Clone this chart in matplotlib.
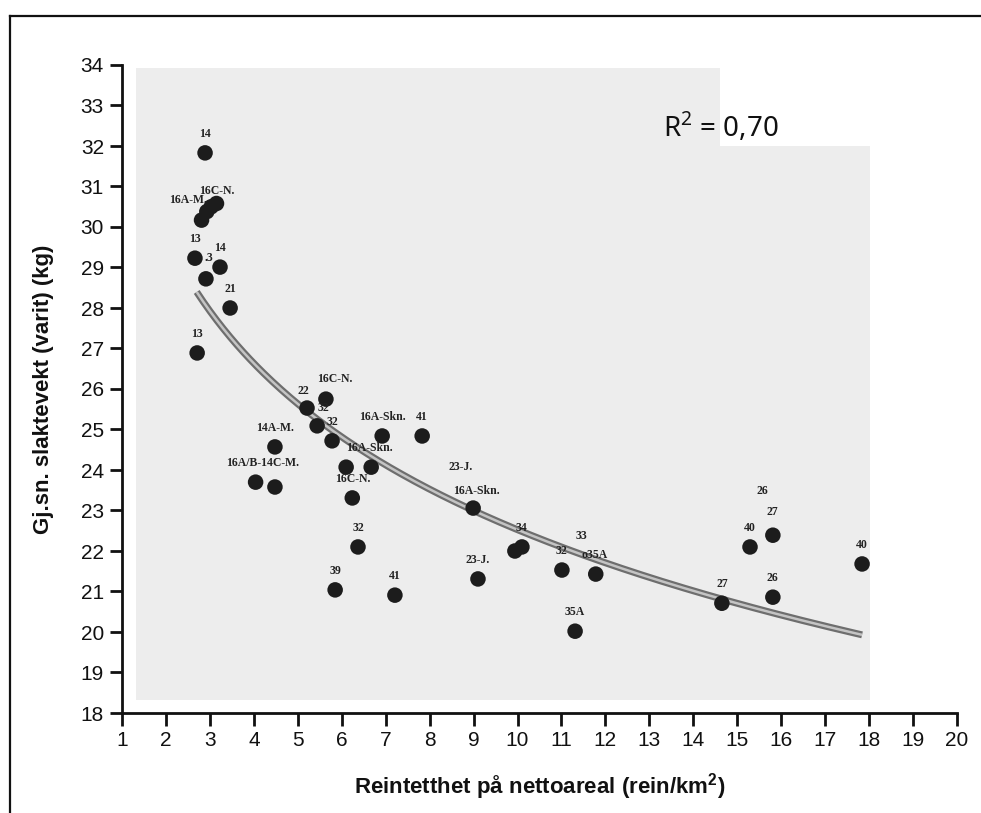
import matplotlib
matplotlib.use("Agg")
import matplotlib.pyplot as plt
import numpy as np
from matplotlib.patches import Rectangle
from matplotlib.lines import Line2D

# ---------------- data ----------------
density = [2.89, 2.81, 2.93, 3.03, 3.15, 2.66, 2.91, 3.23, 3.46, 2.71,
           5.21, 5.64, 5.44, 5.78, 4.48, 6.92, 7.83, 6.10, 6.67, 6.24,
           4.04, 4.48, 6.37, 5.85, 7.21, 8.99, 9.94, 10.10, 9.10, 11.01,
           11.78, 11.31, 14.65, 15.29, 15.81, 15.81, 17.84]
weight = [31.83, 30.17, 30.38, 30.50, 30.58, 29.23, 28.72, 29.01, 28.00, 26.89,
          25.53, 25.75, 25.09, 24.72, 24.57, 24.84, 24.84, 24.07, 24.07, 23.31,
          23.70, 23.58, 22.10, 21.04, 20.91, 23.06, 22.00, 22.10, 21.31, 21.53,
          21.43, 20.02, 20.71, 22.10, 22.39, 20.86, 21.68]
point_labels = ["14", "16A-M.", "", "16C-N.", "", "13", ".3", "14", "21", "13",
                "22", "16C-N.", "32", "32", "14A-M.", "16A-Skn.", "41", "", "16A-Skn.", "16C-N.",
                "16A/B-14C-M.", "", "32", "39", "41", "16A-Skn.", "", "34", "23-J.", "32",
                "o35A", "35A", "27", "40", "27", "26", "40"]
extra_labels = [(25, "23-J."), (30, "33"), (34, "26")]

x_ticks = list(range(1, 21))
y_ticks = list(range(18, 35))
r2_text = "R$^{2}$ = 0,70"
xlabel = r"Reintetthet på nettoareal (rein/km$^{\mathbf{2}}$)"
ylabel = "Gj.sn. slaktevekt (varit) (kg)"
# logarithmic trend line as printed: y = a + b*ln(x)
trend_a = 32.85
trend_b = -4.484
trend_range = (2.7, 17.84)

# ---------------- label offsets (pixels) ----------------
default_off = (0, 19)
label_offsets = {1: (-14, 20), 3: (6, 16), 6: (3, 21), 10: (-4, 17), 11: (9, 20),
                 12: (6, 18), 18: (-2, 19), 20: (7, 19), 25: (3, 17), 30: (-1, 19),
                 34: (-1, 23)}
extra_offsets = [(-13, 41), (-14, 38), (-10, 44)]

# ---------------- style ----------------
plt.rcParams['mathtext.fontset'] = 'custom'
plt.rcParams['mathtext.rm'] = 'Noto Sans'
plt.rcParams['mathtext.bf'] = 'Liberation Sans:bold'
TICK_FONT = ['Liberation Sans', 'DejaVu Sans']

fig = plt.figure(figsize=(9.81, 8.13), dpi=100)
W, H = 981, 813

def fx(px):
    return px / W

def fy(py):
    return 1 - py / H

# textured plot background (behind the axes)
fig.patches.append(Rectangle((fx(136), fy(700)), fx(870) - fx(136), fy(68) - fy(700),
                             transform=fig.transFigure, facecolor='#ededed',
                             edgecolor='none', zorder=-10))
fig.patches.append(Rectangle((fx(720), fy(146)), fx(875) - fx(720), fy(66) - fy(146),
                             transform=fig.transFigure, facecolor='white',
                             edgecolor='none', zorder=-9))
# frame
fig.lines.append(Line2D([fx(10), 1.0], [fy(16), fy(16)], transform=fig.transFigure,
                        color='#111111', lw=1.6, zorder=-5))
fig.lines.append(Line2D([fx(10), fx(10)], [fy(16), 0.0], transform=fig.transFigure,
                        color='#111111', lw=1.6, zorder=-5))

ax = fig.add_axes([fx(122), fy(713), fx(957) - fx(122), fy(65) - fy(713)])
ax.set_zorder(1)
ax.patch.set_visible(False)
ax.set_xlim(1, 20)
ax.set_ylim(18, 34)
for s in ['top', 'right']:
    ax.spines[s].set_visible(False)
for s in ['left', 'bottom']:
    ax.spines[s].set_linewidth(2.0)
    ax.spines[s].set_color('#111111')
ax.set_xticks(x_ticks)
ax.set_yticks(y_ticks)
ax.tick_params(axis='both', direction='out', length=9, width=2.0, color='#111111',
               labelsize=15, pad=4)
for lab in ax.get_xticklabels() + ax.get_yticklabels():
    lab.set_family(TICK_FONT)
    lab.set_color('#111111')

ax.set_xlabel(xlabel, fontsize=16, fontweight='bold', family=TICK_FONT, labelpad=15,
              color='#111111')
ax.set_ylabel(ylabel, fontsize=16, fontweight='bold', family=TICK_FONT, labelpad=19,
              color='#111111')

# logarithmic trend line
xt = np.linspace(trend_range[0], trend_range[1], 300)
yt = trend_a + trend_b * np.log(xt)
ax.plot(xt, yt, color='#6e6e6e', lw=5, solid_capstyle='butt', zorder=2)
ax.plot(xt, yt, color='#c4c4c4', lw=1.8, solid_capstyle='butt', zorder=2)

ax.scatter(density, weight, s=125, color='#1c1c1c', edgecolors='none', zorder=3)

lab_kw = dict(textcoords='offset pixels', ha='center', va='center', fontsize=8.5,
              family=['Liberation Serif', 'DejaVu Serif'], fontweight='bold',
              color='#222222', zorder=4)
for i, (xv, yv, t) in enumerate(zip(density, weight, point_labels)):
    if not t:
        continue
    off = label_offsets.get(i, default_off)
    ax.annotate(t, (xv, yv), xytext=off, **lab_kw)
for (i, t), off in zip(extra_labels, extra_offsets):
    ax.annotate(t, (density[i], weight[i]), xytext=off, **lab_kw)

ax.text(13.3, 32.45, r2_text, fontsize=20, family=['Noto Sans', 'DejaVu Sans'],
        ha='left', va='center', color='#111111')

fig.savefig('out.png', dpi=100)
